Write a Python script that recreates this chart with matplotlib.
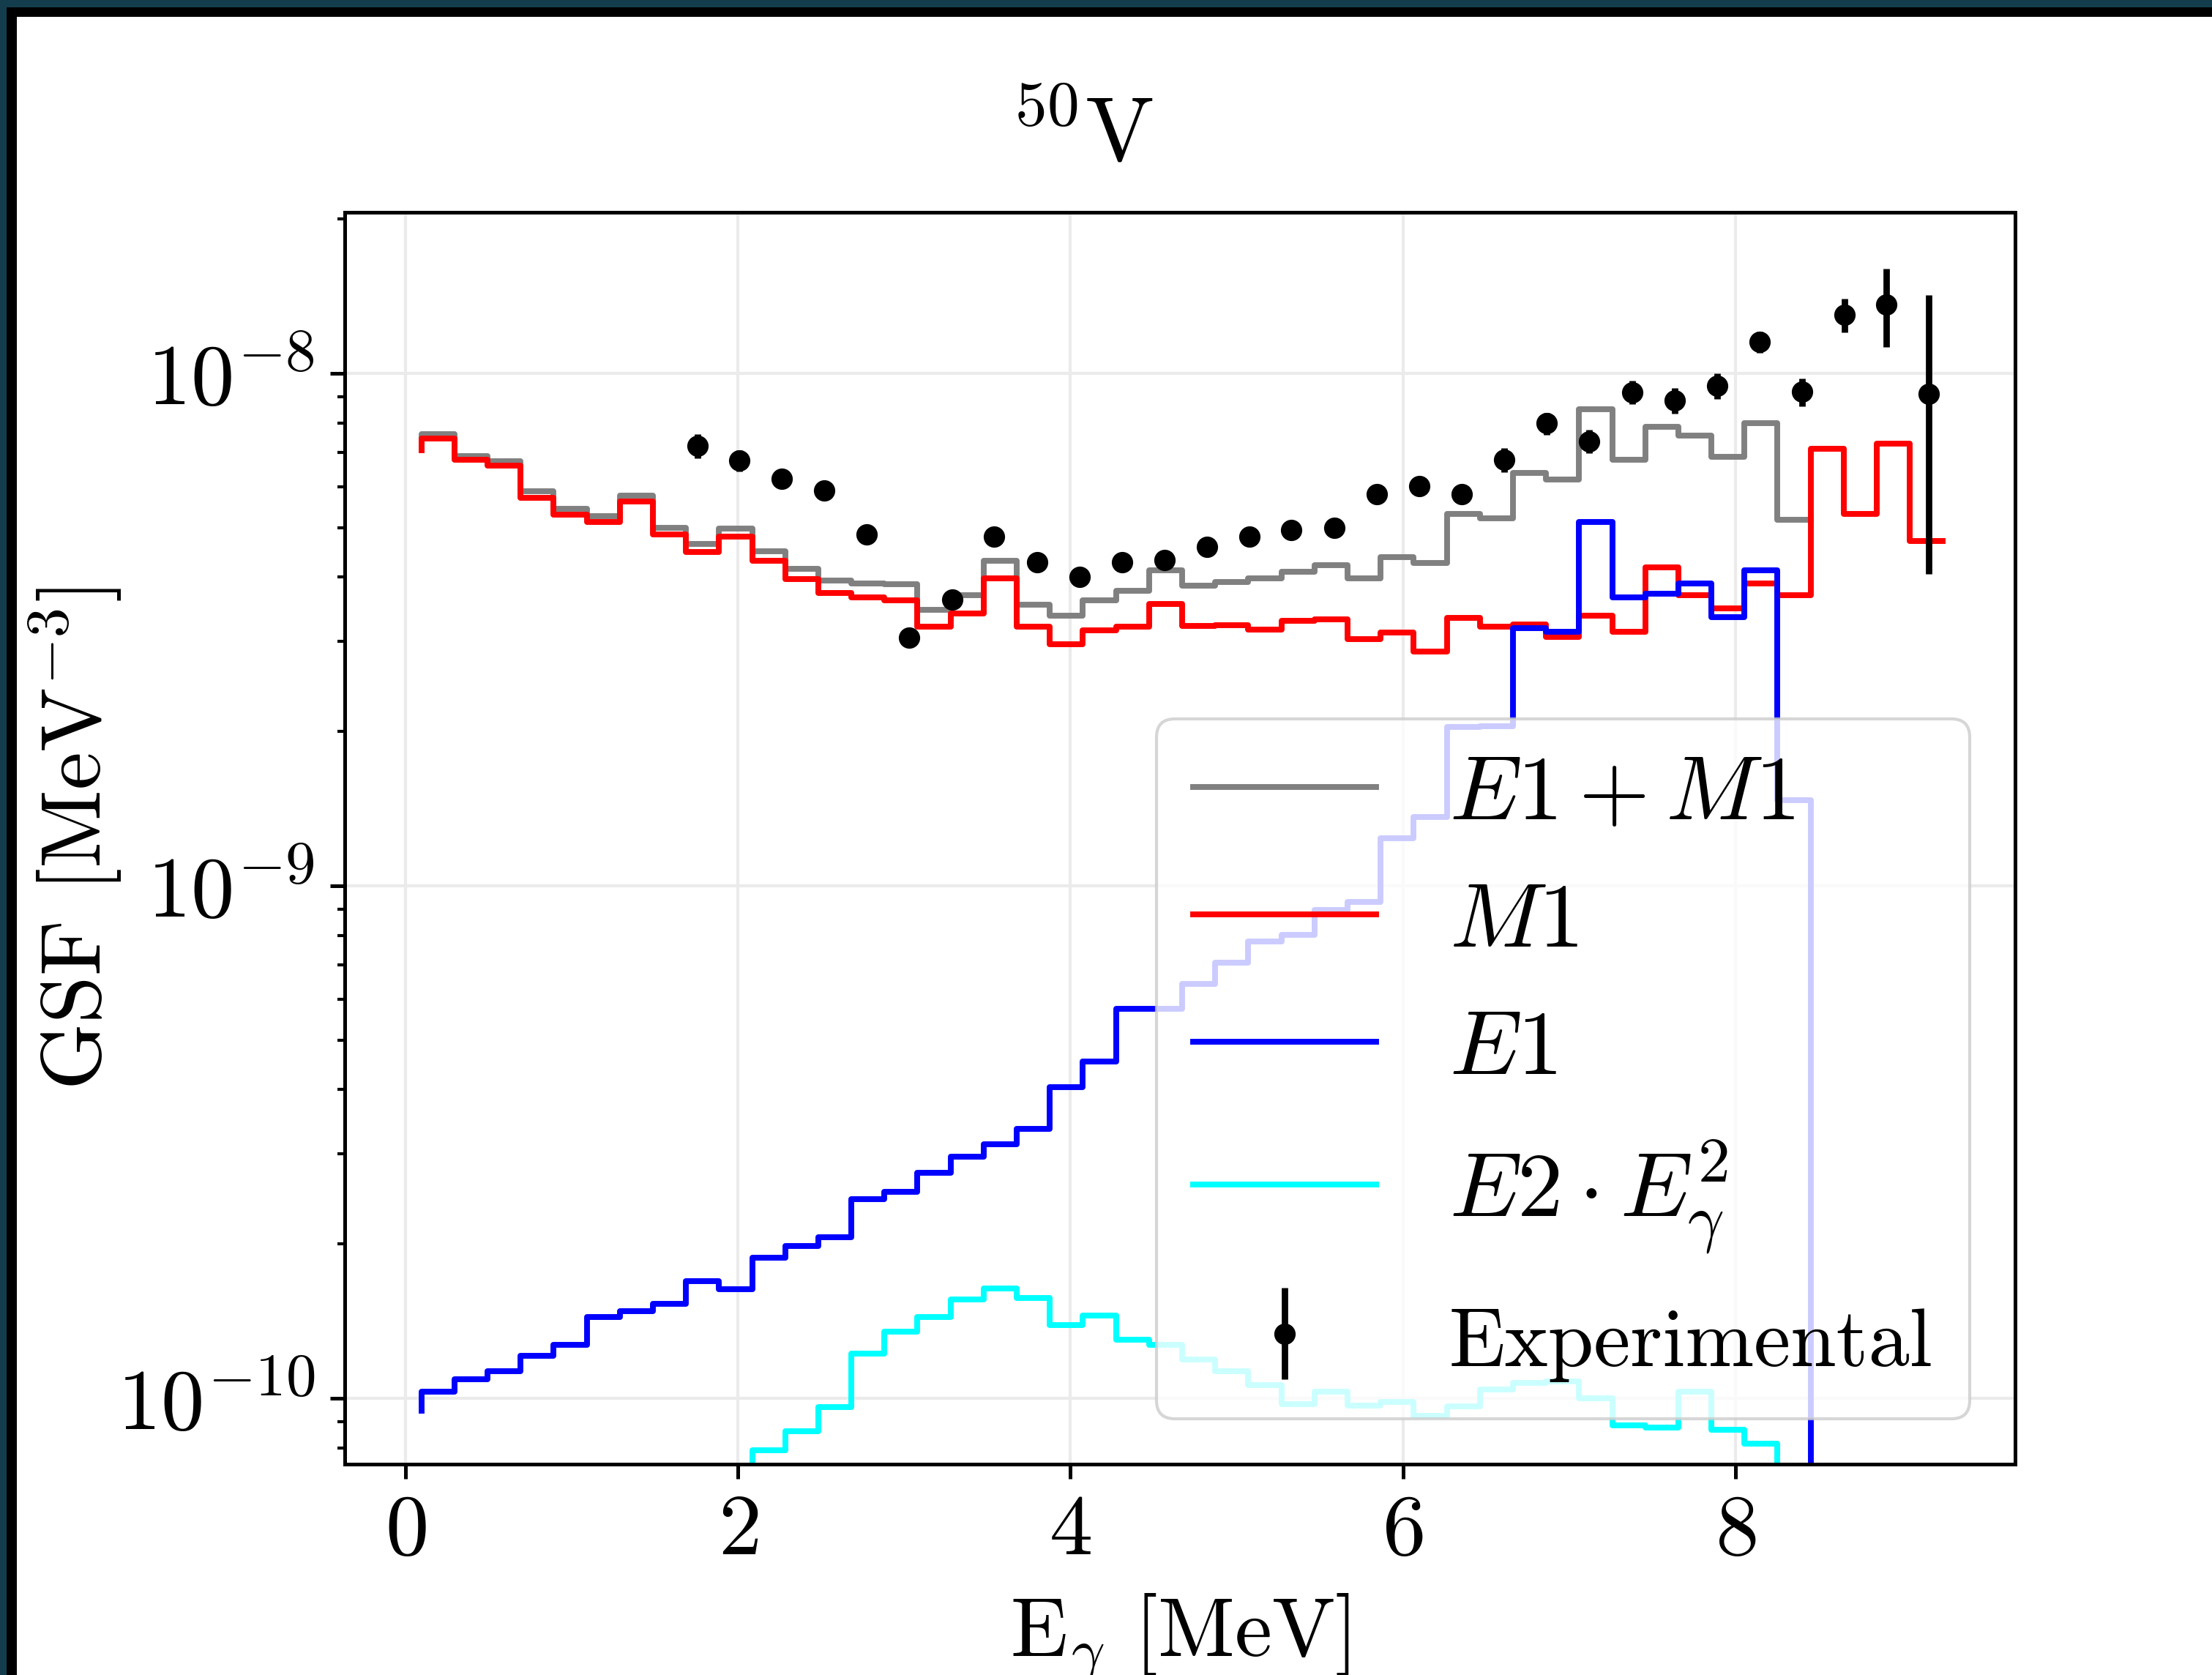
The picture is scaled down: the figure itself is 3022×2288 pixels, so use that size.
import numpy as np
import matplotlib
matplotlib.use("Agg")
import matplotlib.pyplot as plt
from matplotlib.patches import Rectangle

# Strength functions of 50V, histogram edges in MeV (step style 'pre')
e_grid = [0.095, 0.294, 0.493, 0.692, 0.891, 1.090, 1.289, 1.488, 1.687, 1.886,
          2.085, 2.284, 2.483, 2.682, 2.881, 3.080, 3.279, 3.478, 3.677, 3.876,
          4.075, 4.274, 4.473, 4.672, 4.871, 5.070, 5.269, 5.468, 5.667, 5.866,
          6.065, 6.264, 6.463, 6.662, 6.861, 7.060, 7.259, 7.458, 7.657, 7.856,
          8.055, 8.254, 8.453, 8.652, 8.851, 9.050, 9.249]

# M1 (red), one value per grid point
gsf_m1 = [7.08e-9, 7.45e-9, 6.78e-9, 6.60e-9, 5.72e-9, 5.30e-9, 5.12e-9, 5.62e-9, 4.85e-9, 4.48e-9,
          4.80e-9, 4.30e-9, 3.96e-9, 3.73e-9, 3.65e-9, 3.61e-9, 3.20e-9, 3.40e-9, 3.98e-9, 3.20e-9,
          2.96e-9, 3.15e-9, 3.20e-9, 3.55e-9, 3.21e-9, 3.22e-9, 3.16e-9, 3.29e-9, 3.31e-9, 3.03e-9,
          3.12e-9, 2.86e-9, 3.33e-9, 3.20e-9, 3.23e-9, 3.06e-9, 3.37e-9, 3.13e-9, 4.18e-9, 3.69e-9,
          3.48e-9, 3.89e-9, 3.69e-9, 7.13e-9, 5.32e-9, 7.30e-9, 4.71e-9]

# E1 + M1 (gray), up to 8.45 MeV
gsf_sum = [7.18e-9, 7.60e-9, 6.89e-9, 6.73e-9, 5.88e-9, 5.44e-9, 5.27e-9, 5.78e-9, 5.00e-9, 4.65e-9,
           4.97e-9, 4.49e-9, 4.16e-9, 3.94e-9, 3.89e-9, 3.87e-9, 3.45e-9, 3.69e-9, 4.30e-9, 3.54e-9,
           3.36e-9, 3.60e-9, 3.76e-9, 4.12e-9, 3.85e-9, 3.92e-9, 3.98e-9, 4.10e-9, 4.22e-9, 3.98e-9,
           4.38e-9, 4.27e-9, 5.31e-9, 5.21e-9, 6.38e-9, 6.20e-9, 8.50e-9, 6.77e-9, 7.87e-9, 7.56e-9,
           6.87e-9, 8.00e-9, 5.17e-9]

# E1 (blue), up to 8.65 MeV
gsf_e1 = [9.46e-11, 1.03e-10, 1.09e-10, 1.13e-10, 1.21e-10, 1.27e-10, 1.44e-10, 1.48e-10, 1.53e-10, 1.69e-10,
          1.63e-10, 1.88e-10, 1.98e-10, 2.06e-10, 2.45e-10, 2.53e-10, 2.75e-10, 2.96e-10, 3.13e-10, 3.35e-10,
          4.05e-10, 4.54e-10, 5.75e-10, 5.75e-10, 6.43e-10, 7.07e-10, 7.78e-10, 8.03e-10, 8.98e-10, 9.31e-10,
          1.24e-9, 1.36e-9, 2.04e-9, 2.05e-9, 3.18e-9, 3.13e-9, 5.13e-9, 3.65e-9, 3.71e-9, 3.89e-9,
          3.34e-9, 4.12e-9, 1.47e-9, 1.0e-12]

# E2 * Egamma^2 (cyan), grid points 10..42
e2_start = 10
gsf_e2 = [6.0e-11, 7.92e-11, 8.62e-11, 9.60e-11, 1.22e-10, 1.35e-10, 1.44e-10, 1.56e-10, 1.64e-10, 1.57e-10,
          1.39e-10, 1.45e-10, 1.30e-10, 1.27e-10, 1.19e-10, 1.13e-10, 1.06e-10, 9.74e-11, 1.03e-10, 9.67e-11,
          9.84e-11, 9.23e-11, 9.63e-11, 1.04e-10, 1.07e-10, 1.08e-10, 1.00e-10, 8.85e-11, 8.77e-11, 1.03e-10,
          8.67e-11, 8.14e-11, 5.0e-11]

# Experimental (Oslo) data
exp_e = [1.755, 2.010, 2.265, 2.520, 2.775, 3.030, 3.290, 3.540, 3.800, 4.055,
         4.310, 4.565, 4.820, 5.075, 5.330, 5.590, 5.845, 6.100, 6.355, 6.610,
         6.865, 7.120, 7.380, 7.635, 7.890, 8.145, 8.400, 8.655, 8.910, 9.165]
exp_gsf = [7.22e-9, 6.75e-9, 6.23e-9, 5.90e-9, 4.84e-9, 3.05e-9, 3.62e-9, 4.80e-9, 4.28e-9, 4.01e-9,
           4.28e-9, 4.32e-9, 4.59e-9, 4.80e-9, 4.95e-9, 5.00e-9, 5.80e-9, 6.03e-9, 5.81e-9, 6.78e-9,
           7.98e-9, 7.37e-9, 9.18e-9, 8.85e-9, 9.46e-9, 1.151e-8, 9.20e-9, 1.30e-8, 1.363e-8, 9.13e-9]
exp_err = [0.40e-9, 0.32e-9, 0.15e-9, 0.15e-9, 0.12e-9, 0.10e-9, 0.10e-9, 0.15e-9, 0.12e-9, 0.10e-9,
           0.10e-9, 0.12e-9, 0.12e-9, 0.12e-9, 0.12e-9, 0.15e-9, 0.15e-9, 0.20e-9, 0.20e-9, 0.37e-9,
           0.40e-9, 0.38e-9, 0.48e-9, 0.50e-9, 0.55e-9, 0.56e-9, 0.57e-9, 1.00e-9, 2.36e-9, 5.07e-9]

plt.rcParams.update({
    "font.family": "serif",
    "font.serif": ["cmr10"],
    "mathtext.fontset": "cm",
    "axes.formatter.use_mathtext": True,
    "axes.unicode_minus": False,
    "font.size": 30,
})

W, H = 3022, 2288
fig = plt.figure(figsize=(W / 300, H / 300), dpi=300)
fig.patch.set_facecolor("white")

# dark frame along the top and left edges
teal = "#133d4c"
fig.add_artist(Rectangle((0, 1 - 10 / H), 1, 10 / H, transform=fig.transFigure, color=teal, lw=0))
fig.add_artist(Rectangle((0, 0), 9 / W, 1, transform=fig.transFigure, color=teal, lw=0))
fig.add_artist(Rectangle((9 / W, 1 - 23 / H), 1, 13 / H, transform=fig.transFigure, color="black", lw=0))
fig.add_artist(Rectangle((9 / W, 0), 14 / W, 1 - 10 / H, transform=fig.transFigure, color="black", lw=0))

ax = fig.add_axes([471 / W, 1 - 2000 / H, (2753 - 471) / W, (2000 - 290) / H])

x = np.array(e_grid)
lw = 1.9
ax.step(x[:len(gsf_sum)], gsf_sum, where="pre", color="gray", lw=lw, label=r"$E1 + M1$")
ax.step(x[:len(gsf_m1)], gsf_m1, where="pre", color="red", lw=lw, label=r"$M1$")
ax.step(x[:len(gsf_e1)], gsf_e1, where="pre", color="blue", lw=lw, label=r"$E1$")
ax.step(x[e2_start:e2_start + len(gsf_e2)], gsf_e2, where="pre", color="cyan", lw=lw,
        label=r"$E2 \cdot E_\gamma^2$")
ax.errorbar(exp_e, exp_gsf, yerr=exp_err, fmt="o", color="black", ms=6, elinewidth=2.1,
            capsize=0, label="Experimental")

ax.set_yscale("log")
ax.set_xlim(-0.3655, 9.683)
ax.set_ylim(7.436e-11, 2.061e-8)
ax.set_xticks([0, 2, 4, 6, 8])

ax.grid(True, which="major", color="#ebebeb", lw=1.0)
for sp in ax.spines.values():
    sp.set_linewidth(1.2)
ax.tick_params(which="major", length=4.8, width=1.2, pad=5, labelsize=28.5)
ax.tick_params(which="minor", length=2.4, width=1.0)

ax.set_xlabel(r"E$_\gamma$ [MeV]", fontsize=27.5)
ax.set_ylabel(r"GSF [MeV$^{-3}$]", fontsize=28)
ax.yaxis.set_label_coords(-0.132, 0.5)
ax.xaxis.set_label_coords(0.5, -0.102)

leg = ax.legend(loc="lower right", fontsize=30)
leg.get_texts()[-1].set_fontsize(27)

fig.text(1478 / W, 1 - 220 / H, r"$^{50}$V", ha="center", va="baseline", fontsize=30)

fig.savefig("out.png", dpi=300)
